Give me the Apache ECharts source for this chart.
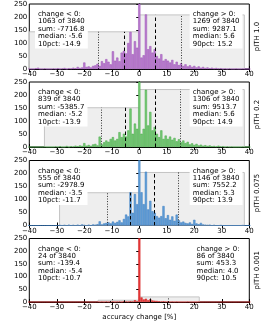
<!DOCTYPE html>
<html><head><meta charset="utf-8">
<script src="https://cdn.jsdelivr.net/npm/echarts@6/dist/echarts.min.js"></script>
<style>html,body{margin:0;padding:0;background:#fff}#c{width:269px;height:322px}</style>
</head><body><div id="c"></div>
<script>
// histogram bins: centers start at binStart, step binWidth (101 bins, -40..40)
const binStart = -40, binWidth = 0.8;
const panelLabels = ['pITH 1.0', 'pITH 0.2', 'pITH 0.075', 'pITH 0.001'];
const counts_pITH_1_0 = [
  1,0,0,3,5,0,0,2,0,0,
  0,2,0,3,0,2,4,0,3,2,
  5,3,8,4,6,25,8,10,6,12,
  14,20,12,30,22,38,28,18,68,32,
  44,30,63,70,60,100,143,57,107,82,
  1508,
  44,53,210,76,88,63,76,50,40,57,
  32,38,32,25,35,18,28,15,22,12,
  18,10,14,8,12,6,10,5,8,4,
  6,3,5,2,4,2,3,0,2,0,
  2,0,0,1,0,0,1,0,0,0
];
const counts_pITH_0_2 = [
  0,0,0,0,0,0,0,1,0,0,
  0,0,2,0,3,0,0,4,0,3,
  2,5,3,6,4,15,5,8,4,10,
  12,6,40,10,18,25,20,31,38,25,
  31,57,38,51,40,64,148,51,90,70,
  1695,
  51,70,220,83,135,64,77,51,38,64,
  31,44,31,40,28,35,22,30,18,25,
  15,20,10,14,8,12,6,9,5,7,
  4,6,3,4,2,5,2,3,0,2,
  0,1,0,0,0,0,1,0,0,0
];
const counts_pITH_0_075 = [
  0,0,0,0,0,0,0,0,0,0,
  0,0,0,0,1,0,2,0,3,0,
  2,0,3,0,4,2,0,3,0,4,
  3,5,16,4,8,10,12,8,15,10,
  14,20,12,25,42,35,128,49,121,82,
  2139,
  128,82,207,62,95,55,49,36,30,36,
  75,28,40,22,35,18,42,20,12,15,
  10,8,12,6,22,8,5,10,4,3,
  2,3,0,2,0,0,1,0,0,0,
  0,0,0,0,0,0,1,0,0,0
];
const counts_pITH_0_001 = [
  0,0,0,0,0,0,0,0,0,0,
  0,0,0,0,0,0,0,0,0,0,
  0,0,0,0,0,0,0,0,0,0,
  0,1,0,1,0,2,0,1,2,0,
  1,2,0,3,2,1,3,2,7,3,
  3730,
  18,10,13,7,11,6,5,4,3,2,
  3,1,2,0,1,0,1,0,0,0,
  0,1,0,0,0,0,1,0,0,0,
  0,0,0,0,0,0,0,0,0,0,
  0,0,0,0,0,0,0,0,0,0
];
const allCounts = [counts_pITH_1_0, counts_pITH_0_2, counts_pITH_0_075, counts_pITH_0_001];
// summary rectangles (range of negative / positive values, max bar height)
const negStart = [-40, -34.5, -29, -15];
const negHeight = [143, 151, 126, 7];
const posEnd = [38.2, 38.2, 38.2, 21.8];
const posHeight = [208, 221, 204, 20];
// stats
const total = 3840;
const negCount = [1063, 839, 555, 24];
const posCount = [1269, 1306, 1146, 86];
const negSum = [-7716.8, -5385.7, -2978.9, -139.4];
const posSum = [9287.1, 9513.7, 7552.2, 453.3];
const negMedian = [-5.6, -5.2, -3.5, -5.4];
const posMedian = [5.6, 5.6, 5.3, 4.0];
const pct10 = [-14.9, -13.9, -11.7, -10.7];
const pct90 = [15.2, 14.9, 13.9, 10.5];
const xTicksMin = -40, xTicksMax = 40, xTickStep = 10;
const yTicksMin = 0, yTicksMax = 250, yTickStep = 50;

const fillColors = ['#bb7fd0', '#77c977', '#629fd8', '#e83a3a'];
const edgeColors = ['#9a4fb5', '#44a844', '#3a7cc0', '#d02020'];

const FONT = '"DejaVu Sans", sans-serif';
const tops = [4, 82, 160.5, 238.5];
const H = 65;
const LEFT = 29.3, W = 220;

const grids = [], xAxes = [], yAxes = [], series = [], graphics = [];
const minus = s => String(s).replace('-', '\u2212');

tops.forEach((top, p) => {
  grids.push({left: LEFT, top: top, width: W, height: H, show: true, borderColor: '#000', borderWidth: 1, backgroundColor: 'transparent'});
  const last = p === 3;
  xAxes.push({
    type: 'value', gridIndex: p, min: xTicksMin, max: xTicksMax, interval: xTickStep, position: 'bottom',
    axisLine: {show: true, lineStyle: {color: '#000', width: 1}},
    axisTick: {show: true, inside: true, length: 3, lineStyle: {color: '#000'}},
    axisLabel: {fontSize: 7, color: '#000', fontFamily: FONT, margin: 2, formatter: v => minus(v)},
    splitLine: {show: false},
    name: last ? 'accuracy change [%]' : '', nameLocation: 'middle', nameGap: 12,
    nameTextStyle: {fontSize: 7, color: '#000', fontFamily: FONT}
  });
  xAxes.push({
    type: 'value', gridIndex: p, min: xTicksMin, max: xTicksMax, interval: xTickStep, position: 'top',
    axisLine: {show: true, lineStyle: {color: '#000', width: 1}},
    axisTick: {show: true, inside: true, length: 3, lineStyle: {color: '#000'}},
    axisLabel: {show: false}, splitLine: {show: false}
  });
  yAxes.push({
    type: 'value', gridIndex: p, min: yTicksMin, max: yTicksMax, interval: yTickStep, position: 'left',
    axisLine: {show: true, lineStyle: {color: '#000', width: 1}},
    axisTick: {show: true, inside: false, length: 2.5, lineStyle: {color: '#000'}},
    axisLabel: {fontSize: 7, color: '#000', fontFamily: FONT, margin: 2},
    splitLine: {show: false}
  });
  yAxes.push({
    type: 'value', gridIndex: p, min: yTicksMin, max: yTicksMax, interval: yTickStep, position: 'right',
    axisLine: {show: true, lineStyle: {color: '#000', width: 1}},
    axisTick: {show: true, inside: true, length: 3, lineStyle: {color: '#000'}},
    axisLabel: {show: false}, splitLine: {show: false},
    name: panelLabels[p], nameLocation: 'middle', nameRotate: 90, nameGap: 4,
    nameTextStyle: {fontSize: 7, color: '#000', fontFamily: FONT, verticalAlign: 'top'}
  });
  const xi = p * 2, yi = p * 2;
  // grey range rectangles
  series.push({
    type: 'custom', xAxisIndex: xi, yAxisIndex: yi, z: 1, clip: true, silent: true,
    data: [[negStart[p], 0, negHeight[p]], [0, posEnd[p], posHeight[p]]],
    renderItem: (params, api) => {
      const a = api.coord([api.value(0), api.value(2)]);
      const b = api.coord([api.value(1), 0]);
      return {type: 'rect', shape: {x: a[0], y: a[1], width: b[0] - a[0], height: b[1] - a[1]},
        style: {fill: '#eeeeee', stroke: '#c4c4c4', lineWidth: 1}};
    }
  });
  // histogram bars
  series.push({
    type: 'bar', xAxisIndex: xi, yAxisIndex: yi, z: 2, barWidth: 2.2, clip: true, silent: true,
    data: allCounts[p].map((c, i) => [binStart + binWidth * i, c]),
    itemStyle: {color: fillColors[p], borderColor: edgeColors[p], borderWidth: 0.5}
  });
  // median (dashed) and percentile (dotted) lines
  series.push({
    type: 'custom', xAxisIndex: xi, yAxisIndex: yi, z: 3, clip: true, silent: true,
    data: [[negMedian[p], negHeight[p], 0], [posMedian[p], posHeight[p], 0], [pct10[p], negHeight[p], 1], [pct90[p], posHeight[p], 1]],
    renderItem: (params, api) => {
      const a = api.coord([api.value(0), 0]);
      const b = api.coord([api.value(0), api.value(1)]);
      const dotted = api.value(2) === 1;
      return {type: 'line', shape: {x1: Math.round(a[0]) + 0.5, y1: a[1], x2: Math.round(a[0]) + 0.5, y2: b[1]},
        style: {stroke: '#000', lineWidth: dotted ? 0.8 : 1, lineDash: dotted ? [1, 1.6] : [3.5, 2.5]}};
    }
  });
  const leftText = ['change < 0:', negCount[p] + ' of ' + total, 'sum: ' + negSum[p].toFixed(1), 'median: ' + negMedian[p].toFixed(1), '10pct: ' + pct10[p].toFixed(1)].join('\n');
  const rightText = ['change > 0:', posCount[p] + ' of ' + total, 'sum: ' + posSum[p].toFixed(1), 'median: ' + posMedian[p].toFixed(1), '90pct: ' + pct90[p].toFixed(1)].join('\n');
  graphics.push({type: 'text', left: 35, top: top + 4.5, z: 100,
    style: {text: leftText, font: '7px ' + FONT, fill: '#000', lineHeight: 7.4, backgroundColor: '#fff', padding: [2, 3, 1, 3], align: 'left'}});
  graphics.push({type: 'text', right: 26.5, top: top + 4.5, z: 100,
    style: {text: rightText, font: '7px ' + FONT, fill: '#000', lineHeight: 7.4, backgroundColor: '#fff', padding: [2, 3, 1, 3], align: 'right'}});
});

const chart = echarts.init(document.getElementById('c'), null, {renderer: 'canvas'});
chart.setOption({
  animation: false,
  grid: grids, xAxis: xAxes, yAxis: yAxes, series: series, graphic: graphics
});
</script>
</body></html>
